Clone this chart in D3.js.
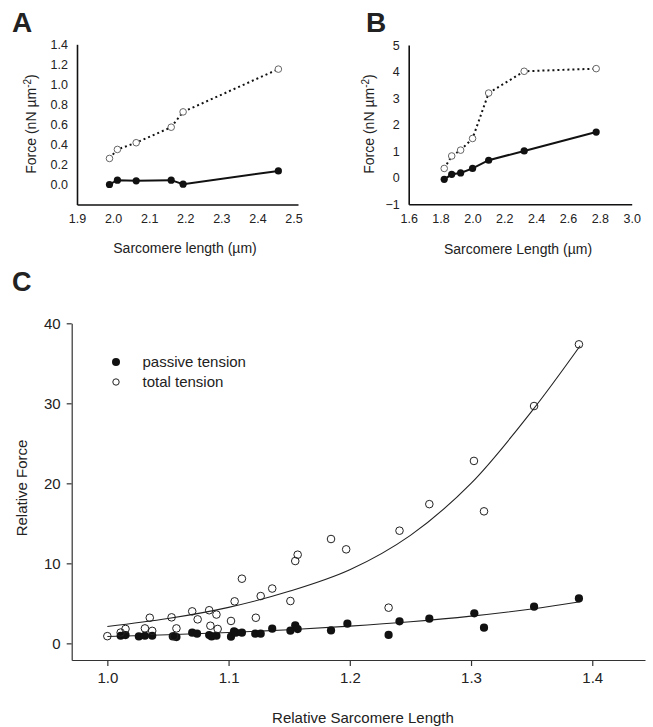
<!DOCTYPE html>
<html><head><meta charset="utf-8">
<script src="https://cdn.jsdelivr.net/npm/d3@7"></script>
<style>body{margin:0;background:#fff} svg text{font-family:"Liberation Sans",Arial,sans-serif;fill:#222}</style>
</head><body><svg id="c" width="653" height="727"></svg>
<script>
// Panel A
const aLength=[1.99,2.012,2.064,2.161,2.194,2.458];
const aTotal=[0.26,0.35,0.417,0.572,0.725,1.152];
const aPassive=[0.0,0.043,0.036,0.043,0.003,0.135];
const aXTicks=[1.9,2.0,2.1,2.2,2.3,2.4,2.5];
const aYTicks=[0,0.2,0.4,0.6,0.8,1.0,1.2,1.4];
// Panel B
const bLength=[1.823,1.870,1.926,2.001,2.102,2.325,2.777];
const bTotal=[0.35,0.82,1.04,1.48,3.19,4.01,4.11];
const bPassive=[-0.06,0.13,0.18,0.35,0.66,1.01,1.72];
const bXTicks=[1.6,1.8,2.0,2.2,2.4,2.6,2.8,3.0];
const bYTicks=[-1,0,1,2,3,4,5];
// Panel C
const cTotalX=[1.000,1.011,1.015,1.031,1.035,1.037,1.053,1.055,1.057,1.070,1.0745,1.084,1.085,1.090,1.091,1.102,1.105,1.111,1.1225,1.1265,1.136,1.151,1.155,1.157,1.1845,1.197,1.232,1.241,1.2656,1.3024,1.3107,1.352,1.389];
const cTotalY=[0.9,1.35,1.8,1.87,3.2,1.56,3.25,0.9,1.87,4.0,3.0,4.14,2.2,3.6,1.8,2.8,5.25,8.08,3.2,5.91,6.85,5.29,10.29,11.08,13.04,11.75,4.46,14.08,17.4,22.8,16.5,29.66,37.37];
const cPassiveX=[1.011,1.015,1.026,1.031,1.037,1.054,1.057,1.070,1.074,1.084,1.086,1.090,1.102,1.1045,1.106,1.111,1.122,1.1265,1.136,1.151,1.155,1.157,1.1845,1.198,1.232,1.241,1.2656,1.3027,1.3107,1.352,1.389];
const cPassiveY=[0.95,1.04,0.87,0.95,0.95,0.87,0.79,1.33,1.21,1.04,0.87,0.95,0.83,1.5,1.33,1.33,1.21,1.21,1.83,1.58,2.25,1.79,1.62,2.46,1.06,2.75,3.08,3.75,1.96,4.58,5.62];
const fitX=[1.0,1.05,1.1,1.15,1.2,1.25,1.3,1.35,1.39];
const fitTotal=[2.1,3.1,4.5,6.5,9.2,13.5,20,29,37.2];
const fitPassive=[0.85,1.07,1.35,1.7,2.15,2.7,3.4,4.3,5.2];
const cXTicks=[1.0,1.1,1.2,1.3,1.4];
const cYTicks=[0,10,20,30,40];
const legendLabels=["passive tension","total tension"];

const svg=d3.select("#c");
const f1=d3.format(".1f");

function smallPanel(o){
  const g=svg.append("g");
  const x=d3.scaleLinear().domain(o.xd).range(o.xr);
  const y=d3.scaleLinear().domain(o.yd).range(o.yr);
  const xa=d3.axisBottom(x).tickValues(o.xt).tickFormat(f1).tickSize(0).tickPadding(10).tickSizeOuter(0);
  const ya=d3.axisLeft(y).tickValues(o.yt).tickFormat(o.yf).tickSize(0).tickPadding(9).tickSizeOuter(0);
  const gx=g.append("g").attr("transform",`translate(0,${o.yr[0]})`).call(xa);
  const gy=g.append("g").attr("transform",`translate(${o.xr[0]},0)`).call(ya);
  [gx,gy].forEach(a=>{a.select(".domain").attr("stroke","#111").attr("stroke-width",1.6);
    a.selectAll("text").attr("font-size",12.5).attr("fill","#333").attr("font-family","Liberation Sans, Arial, sans-serif");});
  const pts=o.len.map((d,i)=>({x:d,t:o.tot[i],p:o.pas[i]}));
  g.append("path").datum(pts).attr("fill","none").attr("stroke","#111").attr("stroke-width",2)
   .attr("stroke-dasharray","2,3").attr("d",d3.line().x(d=>x(d.x)).y(d=>y(d.t)));
  g.append("path").datum(pts).attr("fill","none").attr("stroke","#111").attr("stroke-width",2)
   .attr("d",d3.line().x(d=>x(d.x)).y(d=>y(d.p)));
  g.selectAll(".o").data(pts).join("circle").attr("cx",d=>x(d.x)).attr("cy",d=>y(d.t)).attr("r",3.3)
   .attr("fill","#fff").attr("stroke","#666").attr("stroke-width",1);
  g.selectAll(".f").data(pts).join("circle").attr("cx",d=>x(d.x)).attr("cy",d=>y(d.p)).attr("r",3.6)
   .attr("fill","#111");
  const yt=g.append("text").attr("transform",`translate(${o.ytx},${o.yty}) rotate(-90)`).attr("text-anchor","middle").attr("font-size",14);
  yt.append("tspan").text("Force (nN \u00b5m");
  yt.append("tspan").attr("dy",-5).attr("font-size",10).text("-2");
  yt.append("tspan").attr("dy",5).text(")");
  g.append("text").attr("x",o.xtx).attr("y",o.xty).attr("text-anchor","middle").attr("font-size",14).text(o.xtitle);
  g.append("text").attr("x",o.lx).attr("y",32).attr("font-size",28).attr("font-weight","bold").attr("fill","#111").text(o.letter);
}

smallPanel({xd:[1.9,2.5124],xr:[77,298],yd:[-0.2,1.4],yr:[204.5,44.3],xt:aXTicks,yt:aYTicks,yf:f1,
  len:aLength,tot:aTotal,pas:aPassive,ytx:36,yty:124,xtx:185,xty:253,xtitle:"Sarcomere length (\u00b5m)",lx:12,letter:"A"});
smallPanel({xd:[1.6,3.0],xr:[408.7,631.7],yd:[-1,5],yr:[204.3,45],xt:bXTicks,yt:bYTicks,yf:d3.format("d"),
  len:bLength,tot:bTotal,pas:bPassive,ytx:374,yty:124,xtx:518,xty:254,xtitle:"Sarcomere Length (\u00b5m)",lx:366,letter:"B"});

// Panel C
const gc=svg.append("g");
const xC=d3.scaleLinear().domain([0.9706,1.4435]).range([71.7,645]);
const yC=d3.scaleLinear().domain([-2.08,40]).range([660,323.3]);
const cxa=d3.axisBottom(xC).tickValues(cXTicks).tickFormat(f1).tickSize(6).tickPadding(6).tickSizeOuter(0);
const cya=d3.axisLeft(yC).tickValues(cYTicks).tickFormat(d3.format("d")).tickSize(5).tickPadding(6).tickSizeOuter(0);
const gcx=gc.append("g").attr("transform","translate(0,660)").call(cxa);
const gcy=gc.append("g").attr("transform","translate(71.7,0)").call(cya);
[gcx,gcy].forEach(a=>{a.selectAll(".domain,line").attr("stroke","#333").attr("stroke-width",1.2);
  a.selectAll("text").attr("font-size",15).attr("fill","#222").attr("font-family","Liberation Sans, Arial, sans-serif");});
const fit=fitX.map((d,i)=>({x:d,t:fitTotal[i],p:fitPassive[i]}));
gc.append("path").datum(fit).attr("fill","none").attr("stroke","#222").attr("stroke-width",1.1)
  .attr("d",d3.line().curve(d3.curveCatmullRom).x(d=>xC(d.x)).y(d=>yC(d.t)));
gc.append("path").datum(fit).attr("fill","none").attr("stroke","#222").attr("stroke-width",1.1)
  .attr("d",d3.line().curve(d3.curveCatmullRom).x(d=>xC(d.x)).y(d=>yC(d.p)));
gc.selectAll(".cp").data(cPassiveX.map((d,i)=>[d,cPassiveY[i]])).join("circle")
  .attr("cx",d=>xC(d[0])).attr("cy",d=>yC(d[1])).attr("r",4.1).attr("fill","#111");
gc.selectAll(".ct").data(cTotalX.map((d,i)=>[d,cTotalY[i]])).join("circle")
  .attr("cx",d=>xC(d[0])).attr("cy",d=>yC(d[1])).attr("r",3.8).attr("fill","none").attr("stroke","#222").attr("stroke-width",1);
// legend
gc.append("circle").attr("cx",116).attr("cy",362).attr("r",4).attr("fill","#111");
gc.append("circle").attr("cx",116).attr("cy",382).attr("r",3.2).attr("fill","#fff").attr("stroke","#222").attr("stroke-width",1);
legendLabels.forEach((t,i)=>gc.append("text").attr("x",142.5).attr("y",367+i*20).attr("font-size",15).text(t));
gc.append("text").attr("x",363).attr("y",723).attr("text-anchor","middle").attr("font-size",15).text("Relative Sarcomere Length");
gc.append("text").attr("transform","translate(27,488) rotate(-90)").attr("text-anchor","middle").attr("font-size",15).text("Relative Force");
gc.append("text").attr("x",12).attr("y",291).attr("font-size",27).attr("font-weight","bold").attr("fill","#111").text("C");
</script></body></html>
